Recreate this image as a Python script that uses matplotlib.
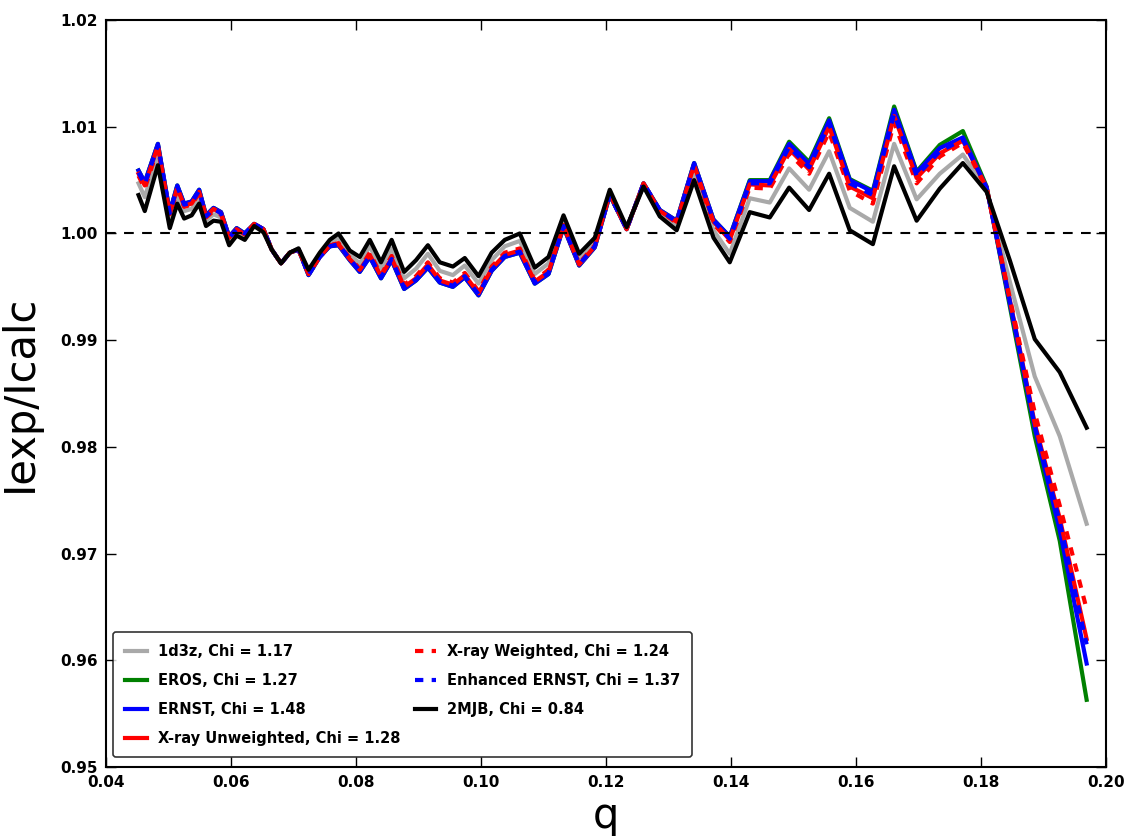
import matplotlib
matplotlib.use("Agg")
import matplotlib.pyplot as plt

q = [0.0452, 0.0462, 0.0483, 0.0502, 0.0514, 0.0525, 0.0537, 0.0549, 0.0560, 0.0572,
     0.0584, 0.0597, 0.0609, 0.0622, 0.0637, 0.0652, 0.0665, 0.0680, 0.0694, 0.0708,
     0.0724, 0.0742, 0.0758, 0.0772, 0.0790, 0.0806, 0.0822, 0.0840, 0.0857, 0.0877,
     0.0896, 0.0915, 0.0934, 0.0955, 0.0974, 0.0996, 0.1017, 0.1038, 0.1062, 0.1086,
     0.1108, 0.1132, 0.1157, 0.1182, 0.1206, 0.1233, 0.1260, 0.1286, 0.1313, 0.1341,
     0.1372, 0.1398, 0.1430, 0.1462, 0.1493, 0.1525, 0.1557, 0.1590, 0.1627, 0.1661,
     0.1697, 0.1734, 0.1771, 0.1809, 0.1846, 0.1886, 0.1926, 0.1969]

mjb_2 = [1.0036, 1.0021, 1.0064, 1.0005, 1.0028, 1.0014, 1.0017, 1.0028, 1.0007, 1.0012,
         1.0011, 0.9989, 0.9998, 0.9994, 1.0007, 1.0001, 0.9985, 0.9972, 0.9982, 0.9986,
         0.9966, 0.9982, 0.9994, 1.0000, 0.9984, 0.9978, 0.9994, 0.9973, 0.9994, 0.9964,
         0.9975, 0.9989, 0.9973, 0.9969, 0.9977, 0.9960, 0.9982, 0.9994, 1.0000, 0.9968,
         0.9978, 1.0017, 0.9981, 0.9996, 1.0041, 1.0006, 1.0044, 1.0016, 1.0003, 1.0050,
         0.9996, 0.9973, 1.0020, 1.0015, 1.0043, 1.0022, 1.0056, 1.0003, 0.9990, 1.0063,
         1.0012, 1.0042, 1.0066, 1.0039, 0.9975, 0.9901, 0.9870, 0.9818]

ernst = [1.0059, 1.0048, 1.0084, 1.0020, 1.0045, 1.0028, 1.0030, 1.0041, 1.0017, 1.0024,
         1.0020, 0.9997, 1.0005, 1.0000, 1.0009, 1.0004, 0.9985, 0.9972, 0.9982, 0.9985,
         0.9961, 0.9978, 0.9988, 0.9989, 0.9975, 0.9964, 0.9978, 0.9958, 0.9975, 0.9948,
         0.9956, 0.9968, 0.9954, 0.9950, 0.9959, 0.9942, 0.9965, 0.9978, 0.9982, 0.9953,
         0.9962, 1.0006, 0.9970, 0.9987, 1.0036, 1.0004, 1.0047, 1.0022, 1.0012, 1.0066,
         1.0013, 0.9997, 1.0049, 1.0049, 1.0084, 1.0065, 1.0106, 1.0050, 1.0039, 1.0116,
         1.0057, 1.0080, 1.0090, 1.0043, 0.9935, 0.9818, 0.9722, 0.9597]

eros = [1.0059, 1.0048, 1.0084, 1.0020, 1.0045, 1.0028, 1.0030, 1.0041, 1.0017, 1.0024,
        1.0020, 0.9997, 1.0005, 1.0000, 1.0009, 1.0004, 0.9985, 0.9972, 0.9982, 0.9985,
        0.9961, 0.9978, 0.9988, 0.9989, 0.9975, 0.9964, 0.9978, 0.9958, 0.9975, 0.9948,
        0.9956, 0.9968, 0.9954, 0.9950, 0.9959, 0.9942, 0.9965, 0.9978, 0.9982, 0.9953,
        0.9962, 1.0006, 0.9970, 0.9987, 1.0036, 1.0004, 1.0047, 1.0022, 1.0012, 1.0066,
        1.0013, 0.9997, 1.0050, 1.0050, 1.0086, 1.0067, 1.0108, 1.0051, 1.0040, 1.0119,
        1.0058, 1.0083, 1.0096, 1.0044, 0.9932, 0.9810, 0.9712, 0.9563]

d3z = [1.0047, 1.0034, 1.0074, 1.0012, 1.0036, 1.0021, 1.0023, 1.0034, 1.0012, 1.0018,
       1.0015, 0.9993, 1.0001, 0.9997, 1.0008, 1.0003, 0.9985, 0.9972, 0.9982, 0.9986,
       0.9964, 0.9980, 0.9991, 0.9996, 0.9980, 0.9972, 0.9988, 0.9967, 0.9986, 0.9958,
       0.9967, 0.9981, 0.9965, 0.9961, 0.9970, 0.9953, 0.9975, 0.9988, 0.9993, 0.9962,
       0.9972, 1.0013, 0.9977, 0.9992, 1.0039, 1.0005, 1.0045, 1.0019, 1.0007, 1.0057,
       1.0003, 0.9981, 1.0033, 1.0029, 1.0061, 1.0041, 1.0077, 1.0024, 1.0011, 1.0084,
       1.0032, 1.0056, 1.0074, 1.0041, 0.9955, 0.9866, 0.9810, 0.9728]

xray_unw = [1.0056, 1.0045, 1.0082, 1.0018, 1.0043, 1.0026, 1.0028, 1.0039, 1.0016, 1.0023,
            1.0019, 0.9996, 1.0004, 0.9999, 1.0009, 1.0004, 0.9985, 0.9972, 0.9982, 0.9985,
            0.9962, 0.9978, 0.9989, 0.9990, 0.9976, 0.9966, 0.9980, 0.9960, 0.9977, 0.9950,
            0.9958, 0.9971, 0.9956, 0.9952, 0.9961, 0.9944, 0.9967, 0.9980, 0.9984, 0.9955,
            0.9964, 1.0007, 0.9971, 0.9988, 1.0037, 1.0004, 1.0047, 1.0021, 1.0011, 1.0064,
            1.0011, 0.9994, 1.0046, 1.0045, 1.0079, 1.0060, 1.0100, 1.0044, 1.0033, 1.0110,
            1.0052, 1.0075, 1.0087, 1.0043, 0.9938, 0.9822, 0.9733, 0.9620]

xray_w = [1.0054, 1.0042, 1.0080, 1.0017, 1.0041, 1.0025, 1.0027, 1.0038, 1.0015, 1.0021,
          1.0018, 0.9995, 1.0003, 0.9999, 1.0009, 1.0003, 0.9985, 0.9972, 0.9982, 0.9985,
          0.9962, 0.9979, 0.9989, 0.9991, 0.9977, 0.9967, 0.9982, 0.9961, 0.9979, 0.9952,
          0.9960, 0.9973, 0.9958, 0.9954, 0.9963, 0.9946, 0.9969, 0.9982, 0.9986, 0.9956,
          0.9966, 1.0008, 0.9972, 0.9989, 1.0037, 1.0004, 1.0046, 1.0021, 1.0010, 1.0062,
          1.0009, 0.9992, 1.0043, 1.0042, 1.0075, 1.0056, 1.0095, 1.0040, 1.0028, 1.0104,
          1.0047, 1.0072, 1.0085, 1.0042, 0.9940, 0.9832, 0.9745, 0.9648]

enh_ernst = [1.0057, 1.0046, 1.0083, 1.0019, 1.0044, 1.0027, 1.0029, 1.0040, 1.0016, 1.0023,
             1.0019, 0.9996, 1.0004, 1.0000, 1.0009, 1.0004, 0.9985, 0.9972, 0.9982, 0.9985,
             0.9961, 0.9978, 0.9988, 0.9990, 0.9976, 0.9965, 0.9979, 0.9959, 0.9976, 0.9949,
             0.9957, 0.9969, 0.9955, 0.9951, 0.9960, 0.9943, 0.9966, 0.9979, 0.9983, 0.9954,
             0.9963, 1.0007, 0.9971, 0.9988, 1.0036, 1.0004, 1.0047, 1.0022, 1.0011, 1.0065,
             1.0012, 0.9995, 1.0047, 1.0047, 1.0081, 1.0062, 1.0103, 1.0047, 1.0036, 1.0112,
             1.0054, 1.0077, 1.0088, 1.0043, 0.9937, 0.9820, 0.9730, 0.9615]

labels = ["1d3z, Chi = 1.17", "EROS, Chi = 1.27", "ERNST, Chi = 1.48",
          "X-ray Unweighted, Chi = 1.28", "X-ray Weighted, Chi = 1.24",
          "Enhanced ERNST, Chi = 1.37", "2MJB, Chi = 0.84"]
xticks = [0.04, 0.06, 0.08, 0.10, 0.12, 0.14, 0.16, 0.18, 0.20]
yticks = [0.95, 0.96, 0.97, 0.98, 0.99, 1.00, 1.01, 1.02]

plt.rcParams['lines.scale_dashes'] = False
fig = plt.figure(figsize=(11.28, 8.36), dpi=100)
ax = fig.add_axes([0.094, 0.0825, 0.8865, 0.8935])

lw = 3
ax.plot(q, d3z, color='#a9a9a9', lw=lw, label=labels[0])
ax.plot(q, eros, color='#008000', lw=lw, label=labels[1])
ax.plot(q, ernst, color='#0000ff', lw=lw, label=labels[2])
ax.plot(q, xray_unw, color='#ff0000', lw=lw, label=labels[3])
ax.plot(q, xray_w, color='#ff0000', lw=lw, dashes=(6, 6), label=labels[4])
ax.plot(q, enh_ernst, color='#0000ff', lw=lw, dashes=(6, 6), label=labels[5])
ax.plot(q, mjb_2, color='black', lw=lw, label=labels[6])
ax.axhline(1.0, color='black', lw=1.5, dashes=(7, 6))

ax.set_xlim(0.04, 0.20)
ax.set_ylim(0.95, 1.02)
ax.set_xticks(xticks)
ax.set_yticks(yticks)
ax.set_xticklabels([f"{t:.2f}" for t in xticks])
ax.set_yticklabels([f"{t:.2f}" for t in yticks])
ax.tick_params(direction='in', length=7, width=1, top=True, right=True, labelsize=11, pad=6)
for lab in ax.get_xticklabels() + ax.get_yticklabels():
    lab.set_fontweight('bold')
for s in ax.spines.values():
    s.set_linewidth(1.5)

ax.set_xlabel("q", fontsize=30, labelpad=3)
ax.set_ylabel("Iexp/Icalc", fontsize=30, labelpad=14)

leg = ax.legend(loc='lower left', bbox_to_anchor=(0.007, 0.013), borderaxespad=0,
                ncol=2, handlelength=1.5, handletextpad=0.75, columnspacing=1.0,
                prop={'weight': 'bold', 'size': 10.5},
                frameon=True, borderpad=0.8, labelspacing=0.95, fancybox=True)
leg.get_frame().set_edgecolor('black')
leg.get_frame().set_linewidth(1.2)

fig.savefig("out.png", dpi=100, facecolor='white')
